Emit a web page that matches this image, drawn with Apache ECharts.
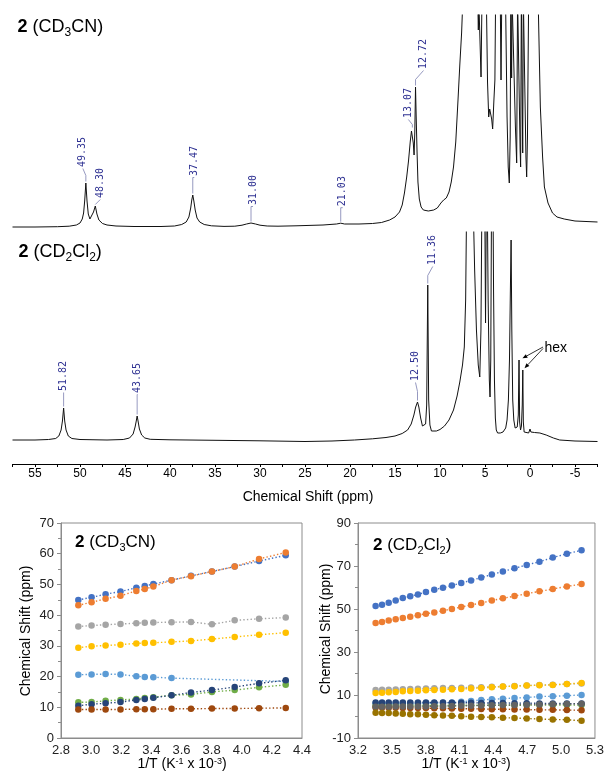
<!DOCTYPE html>
<html><head><meta charset="utf-8">
<script src="https://cdn.jsdelivr.net/npm/echarts@6/dist/echarts.min.js"></script>
<style>html,body{margin:0;padding:0;background:#fff}#c{width:607px;height:773px}</style>
</head><body><div id="c"></div>
<script>
// ---------- 13C NMR traces: [ppm, intensity] ----------
const specCD3CN = [
[57.5,0],[55,0],[52.5,0.3],[51.2,0.8],[50.4,2],[50.0,4],[49.75,8],[49.6,14],[49.48,26],[49.35,44],[49.22,26],[49.08,13],[48.9,8],[48.7,9],[48.5,15],[48.3,21],[48.12,13],[47.9,7],[47.5,3.5],[47,2],[46,1],[44,0.5],[41,0.5],[39.5,1],[38.7,2.5],[38.2,5],[37.9,10],[37.7,19],[37.58,27],[37.47,32],[37.35,26],[37.2,17],[37.0,9],[36.7,5],[36.2,2.5],[35.4,1.2],[34,0.6],[32.8,0.8],[32.0,1.8],[31.5,3],[31.0,4],[30.5,3],[30.0,1.8],[29.2,1],[28,0.8],[26,1.2],[23,2],[21.5,3],[21.03,3.8],[20.6,3],[19,3],[17.5,3.5],[16.5,4.5],[15.6,7],[15.0,10],[14.5,15],[14.2,22],[13.95,34],[13.7,50],[13.5,66],[13.3,86],[13.17,96],[13.07,98],[12.97,84],[12.88,72],[12.8,95],[12.72,140],[12.65,112],[12.55,75],[12.45,45],[12.3,28],[12.1,20],[11.85,17],[11.3,16],[10.7,17],[10.3,19],[9.9,24],[9.6,27],[9.3,29],[9.0,35],[8.75,45],[8.5,60],[8.25,85],[8.0,127],[7.8,162],[7.6,194],[7.45,230],[7.2,290],
[6.5,300],[5.9,260],[5.8,225],[5.74,197],[5.68,225],[5.55,225],[5.44,150],[5.34,225],[5.1,300],[4.85,230],[4.72,145],[4.59,110],[4.48,118],[4.37,120],[4.26,108],[4.15,98],[4.02,125],[3.9,147],[3.82,230],[3.5,300],[3.3,225],[3.22,147],[3.14,225],[2.9,300],[2.72,230],[2.55,110],[2.42,60],[2.3,44],[2.2,90],[2.13,230],[2.08,230],[2.04,149],[1.99,230],[1.8,230],[1.62,100],[1.48,64],[1.38,230],[1.2,230],[1.1,78],[1.04,60],[0.96,230],[0.88,230],[0.81,74],[0.74,230],[0.55,230],[0.45,70],[0.37,50],[0.28,90],[0.15,230],[-0.56,300],[-0.9,230],[-1.15,120],[-1.4,70],[-1.6,40],[-2.0,24],[-2.5,14],[-3.0,10],[-3.8,8],[-5.0,6],[-7.5,5]
];
const specCD2Cl2 = [
[57.5,0],[55,0],[53.5,0.5],[52.7,1.5],[52.35,4],[52.1,10],[51.95,19],[51.82,32],[51.7,19],[51.55,10],[51.3,4],[50.9,1.5],[50,0.5],[47,0],[45.2,0.5],[44.5,2],[44.1,6],[43.88,13],[43.75,19],[43.65,24],[43.55,19],[43.4,11],[43.15,5],[42.8,2],[42.2,0.7],[40,0.2],[35,-0.3],[30,-0.8],[25,-1.5],[22,-1],[19.5,0],[17.5,1.2],[16,2.5],[15,4],[14.2,6.5],[13.6,10],[13.2,16],[12.9,25],[12.7,33],[12.5,38],[12.35,33],[12.15,22],[11.95,14],[11.75,12],[11.6,16],[11.48,35],[11.36,155],[11.26,40],[11.12,15],[10.95,9],[10.75,8],[10.4,9],[10.0,10.5],[9.5,14],[9.0,20],[8.5,30],[8.1,44],[7.8,58],[7.5,75],[7.3,93],[7.15,140],[7.05,230],[6.8,300],
[6.35,250],[6.15,170],[5.95,110],[5.75,75],[5.58,63],[5.45,110],[5.35,230],[5.1,300],[5.0,200],[4.94,117],[4.88,200],[4.8,300],[4.65,140],[4.52,60],[4.44,43],[4.36,80],[4.28,230],[4.15,300],[4.05,150],[3.95,60],[3.85,22],[3.75,10],[3.6,7],[3.45,5],[3.3,7],[3.15,5],[3.0,8],[2.85,7],[2.7,12],[2.55,20],[2.4,40],[2.28,80],[2.18,150],[2.1,200],[2.02,110],[1.92,40],[1.8,20],[1.65,12],[1.56,10],[1.42,13],[1.3,25],[1.22,80],[1.15,18],[1.05,10],[0.95,14],[0.86,35],[0.8,70],[0.74,18],[0.65,8],[0.45,7],[0.15,7],[0.0,11],[-0.1,8],[-0.5,7.5],[-1.1,7],[-1.8,5],[-2.6,2],[-3.3,0],[-5,-1],[-7.5,-1.5]
];
// peak labels: [text, ppm, peak height]
const peaksCD3CN = [['49.35',49.35,44],['48.30',48.30,21],['37.47',37.47,32],['31.00',31.00,4],['21.03',21.03,3.8],['13.07',13.07,98],['12.72',12.72,140]];
const peaksCD2Cl2 = [['51.82',51.82,32],['43.65',43.65,24],['12.50',12.50,38],['11.36',11.36,155]];
const hexPeaks = [[1.22,80],[0.8,70]];
const ppmTicks = {min:-7.5, max:57.5, step:2.5};

// ---------- variable-temperature shifts ----------
const invT_CD3CN = [2.915,3.003,3.096,3.195,3.300,3.356,3.413,3.534,3.663,3.802,3.953,4.115,4.292];
const cd3cn1 = [44.95,45.8,46.8,47.7,48.9,49.5,50.1,51.4,52.8,54.2,55.8,57.6,59.5];
const cd3cn2 = [43.2,44.2,45.3,46.3,47.9,48.5,49.3,51.4,52.7,54.2,55.8,58.3,60.4];
const cd3cn3 = [36.3,36.6,36.9,37.1,37.4,37.5,37.6,37.7,37.8,37.0,38.3,38.8,39.2];
const cd3cn4 = [29.4,29.9,30.1,30.4,30.8,30.9,31.0,31.3,31.6,32.2,32.9,33.6,34.3];
const cd3cn5 = [20.6,20.7,20.8,20.7,20.1,19.9,19.8,19.5,null,null,null,null,18.4];
const cd3cn6 = [11.6,11.7,12.1,12.4,12.7,13.0,13.3,13.9,14.2,15.0,15.6,16.5,17.3];
const cd3cn7 = [10.5,11.0,11.3,11.7,12.4,12.7,13.1,13.9,14.8,15.6,16.6,17.8,18.8];
const cd3cn8 = [9.3,9.3,9.3,9.3,9.4,9.4,9.4,9.5,9.5,9.6,9.6,9.7,9.8];

const invT_CD2Cl2 = [3.356,3.413,3.472,3.534,3.597,3.663,3.731,3.802,3.876,3.953,4.032,4.115,4.202,4.292,4.386,4.484,4.587,4.695,4.808,4.926,5.051,5.181];
const cd2cl2_1 = [51.4,52.0,52.9,54.0,55.1,55.9,56.8,57.9,59.0,59.9,60.9,62.1,63.3,64.6,66.0,67.5,68.9,70.5,72.0,73.9,75.7,77.3];
const cd2cl2_2 = [43.5,44.0,44.6,45.2,45.8,46.4,47.1,47.8,48.4,49.2,50.0,50.9,51.9,52.8,53.9,55.0,56.0,57.1,58.2,59.3,60.5,61.6];
const cd2cl2_3 = [12.3,12.4,12.5,12.6,12.7,12.8,12.9,13.0,13.1,13.2,13.3,13.4,13.5,13.6,13.8,14.0,14.2,14.4,14.6,14.8,15.1,15.4];
const cd2cl2_4 = [10.9,11.1,11.3,11.4,11.7,11.9,12.0,12.2,12.3,12.5,12.7,12.8,13.0,13.3,13.6,13.9,14.1,14.4,14.5,14.7,15.1,15.6];
const cd2cl2_5 = [6.2,6.2,6.2,6.2,6.2,6.2,6.2,6.3,6.3,6.4,6.5,6.9,7.2,7.7,8.0,8.3,8.6,8.8,9.3,9.4,9.7,10.0];
const cd2cl2_6 = [5.0,5.0,5.0,5.0,5.1,5.1,5.1,5.1,5.1,5.1,5.1,5.2,5.2,5.2,5.2,5.2,5.2,5.3,5.3,5.3,5.3,5.3];
const cd2cl2_7 = [6.5,6.5,6.5,6.5,6.5,6.5,6.5,6.5,6.5,6.5,6.4,6.4,6.4,6.3,6.3,6.3,6.2,6.2,6.1,6.1,6.0,6.0];
const cd2cl2_8 = [4.2,4.2,4.1,4.1,4.0,4.0,3.9,3.9,3.8,3.8,3.7,3.6,3.6,3.5,3.4,3.4,3.3,3.2,3.1,3.1,3.0,2.9];
const cd2cl2_9 = [4.5,4.5,4.5,4.6,4.6,4.6,4.7,4.7,4.8,4.8,4.9,5.0,5.0,5.1,5.2,5.3,5.4,5.5,5.6,5.7,5.8,5.9];
const cd2cl2_10 = [1.8,1.6,1.6,1.4,1.3,1.1,1.0,0.8,0.6,0.5,0.3,0.1,-0.1,-0.2,-0.4,-0.6,-0.7,-0.9,-1.2,-1.4,-1.5,-2.0];

// ---------- styling ----------
const FONT = "'Liberation Sans', Arial, Helvetica, sans-serif";
const MONO = "'DejaVu Sans Mono', 'Liberation Mono', monospace";
const PAL = ['#4472C4','#ED7D31','#A5A5A5','#FFC000','#5B9BD5','#70AD47','#264478','#9E480E','#636363','#997300'];
const BOX = '#8c8c8c';

const chart = echarts.init(document.getElementById('c'), null, {renderer:'canvas'});

function specSeries(data, gi) {
  return {type:'line', xAxisIndex:gi, yAxisIndex:gi, data:data, symbol:'none', showSymbol:false,
    lineStyle:{color:'#111', width:1}, clip:true, animation:false, silent:true, z:2};
}
function vtSeries(xs, ys, color, gi) {
  const d = xs.map((x,i)=>[x, ys[i]]).filter(p=>p[1]!==null);
  return {type:'line', xAxisIndex:gi, yAxisIndex:gi, data:d, symbol:'circle', symbolSize:6.5, showSymbol:true,
    lineStyle:{color:color, width:1.4, type:[1.4,2.2]}, itemStyle:{color:color, borderWidth:0},
    animation:false, silent:true, z:3};
}
function vtAxes(gi, xmin, xmax, xint, ymin, ymax, yint) {
  return [{gridIndex:gi, type:'value', min:xmin, max:xmax, interval:xint,
      axisLine:{onZero:false, lineStyle:{color:BOX}}, axisTick:{show:false}, splitLine:{show:false},
      axisLabel:{fontSize:13, color:'#222', fontFamily:FONT, margin:6, formatter:v=>v.toFixed(1)}},
    {gridIndex:gi, type:'value', min:ymin, max:ymax, interval:yint,
      axisLine:{show:true, onZero:false, lineStyle:{color:BOX}},
      axisTick:{show:true, length:4, lineStyle:{color:BOX}},
      minorTick:{show:true, splitNumber:2, length:3, lineStyle:{color:BOX}},
      splitLine:{show:false}, minorSplitLine:{show:false},
      axisLabel:{fontSize:13, color:'#222', fontFamily:FONT, margin:7}}];
}
const ax2 = vtAxes(2, 2.8, 4.4, 0.2, 0, 70, 10);
const ax3 = vtAxes(3, 3.2, 5.3, 0.3, -10, 90, 20);

const series = [specSeries(specCD3CN,0), specSeries(specCD2Cl2,1)];
[cd3cn1,cd3cn2,cd3cn3,cd3cn4,cd3cn5,cd3cn6,cd3cn7,cd3cn8].forEach((ys,i)=>series.push(vtSeries(invT_CD3CN, ys, PAL[i], 2)));
[cd2cl2_1,cd2cl2_2,cd2cl2_3,cd2cl2_4,cd2cl2_5,cd2cl2_6,cd2cl2_7,cd2cl2_8,cd2cl2_9,cd2cl2_10].forEach((ys,i)=>series.push(vtSeries(invT_CD2Cl2, ys, PAL[i], 3)));

chart.setOption({
  backgroundColor:'#fff',
  animation:false,
  grid:[
    {left:12.5, width:585, top:15, height:214},
    {left:12.5, width:585, top:232, height:232},
    {left:61, width:241, top:523, height:215, show:true, borderColor:BOX, borderWidth:1, backgroundColor:'transparent'},
    {left:358, width:240, top:523, height:215, show:true, borderColor:BOX, borderWidth:1, backgroundColor:'transparent'}
  ],
  xAxis:[
    {gridIndex:0, type:'value', inverse:true, min:ppmTicks.min, max:ppmTicks.max, show:false},
    {gridIndex:1, type:'value', inverse:true, min:ppmTicks.min, max:ppmTicks.max, interval:ppmTicks.step,
      axisLine:{onZero:false, lineStyle:{color:'#000', width:1}},
      axisTick:{show:true, length:3, lineStyle:{color:'#000'}},
      splitLine:{show:false},
      axisLabel:{fontSize:12, color:'#000', fontFamily:FONT, margin:4,
        formatter:v=>(Math.abs(v/5-Math.round(v/5))<1e-6 ? String(Math.round(v)) : '')}},
    ax2[0], ax3[0]
  ],
  yAxis:[
    {gridIndex:0, type:'value', min:-2, max:212, show:false},
    {gridIndex:1, type:'value', min:-24, max:208, show:false},
    ax2[1], ax3[1]
  ],
  series:series
});

// ---------- annotations placed through the axes' scales ----------
const g = [];
const mctx = document.createElement('canvas').getContext('2d');
function fontStr(s,b){ return (b?'bold ':'')+s+'px '+FONT; }
function tw(t,s,b){ mctx.font = fontStr(s,b); return mctx.measureText(t).width; }
function richText(pieces, x, baseline, size, center) {
  const ps = pieces.map(p=>({t:p.t, s:p.s||size, b:!!p.b, dy:p.dy||0}));
  const total = ps.reduce((a,p)=>a+tw(p.t,p.s,p.b),0);
  let cx = center ? x-total/2 : x;
  ps.forEach(p=>{
    g.push({type:'text', x:cx, y:baseline+p.dy-0.32*p.s, silent:true,
      style:{text:p.t, font:fontStr(p.s,p.b), fill:'#000', align:'left', verticalAlign:'middle'}});
    cx += tw(p.t,p.s,p.b);
  });
}
const layCD3CN = [[-3,6,13],[5,0,5],[1.5,16,16],[2,15,15],[2,14,14],[-4,3,8],[8,6,15]];
const layCD2Cl2 = [[0,14,14],[0.5,20,20],[-2,9,18],[5,8,17]];
function peakLabels(peaks, lay, gi) {
  peaks.forEach((pk,i)=>{
    const p = chart.convertToPixel({gridIndex:gi}, [pk[1], pk[2]]);
    const [dx, v, gap] = lay[i];
    const x0 = p[0], y0 = p[1]-1.5;
    g.push({type:'polyline', silent:true, shape:{points:[[x0,y0],[x0,y0-v],[x0+dx,y0-gap]]},
      style:{stroke:'#7b7fb0', lineWidth:0.8, fill:'none'}});
    g.push({type:'text', x:x0+dx, y:y0-gap-1.5, rotation:Math.PI/2, silent:true,
      style:{text:pk[0], font:'10px '+MONO, fill:'#2e3192', align:'left', verticalAlign:'middle'}});
  });
}
peakLabels(peaksCD3CN, layCD3CN, 0);
peakLabels(peaksCD2Cl2, layCD2Cl2, 1);

// hex arrows
const h1 = chart.convertToPixel({gridIndex:1}, hexPeaks[0]);
const tx = h1[0]+25.5, ty = h1[1]-12;
g.push({type:'text', x:tx, y:ty, silent:true, style:{text:'hex', font:'14px '+FONT, fill:'#000', align:'left', verticalAlign:'middle'}});
const hexEnd = [[3.4,-1.7],[1.7,-1.7]];
hexPeaks.forEach((h,i)=>{
  const p = chart.convertToPixel({gridIndex:1}, h);
  const sx = tx-1.5, sy = ty-1+i*1.5;
  const ex = p[0]+hexEnd[i][0], ey = p[1]+hexEnd[i][1];
  const L = Math.hypot(ex-sx, ey-sy), ux=(ex-sx)/L, uy=(ey-sy)/L;
  const bx = ex-ux*5, by = ey-uy*5;
  g.push({type:'line', silent:true, shape:{x1:sx,y1:sy,x2:bx,y2:by}, style:{stroke:'#000', lineWidth:0.8}});
  g.push({type:'polygon', silent:true, shape:{points:[[ex,ey],[bx-uy*2,by+ux*2],[bx+uy*2,by-ux*2]]}, style:{fill:'#000'}});
});

// titles
richText([{t:'2',b:true},{t:' (CD'},{t:'3',s:12,dy:4},{t:'CN)'}], 17.5, 33, 18, false);
richText([{t:'2',b:true},{t:' (CD'},{t:'2',s:12,dy:4},{t:'Cl'},{t:'2',s:12,dy:4},{t:')'}], 18.5, 258, 18, false);
richText([{t:'2',b:true},{t:' (CD'},{t:'3',s:11,dy:4},{t:'CN)'}], 75, 547.5, 17, false);
richText([{t:'2',b:true},{t:' (CD'},{t:'2',s:11,dy:4},{t:'Cl'},{t:'2',s:11,dy:4},{t:')'}], 373, 550.5, 17, false);
// axis titles
g.push({type:'text', x:308, y:497, silent:true, style:{text:'Chemical Shift (ppm)', font:'14px '+FONT, fill:'#000', align:'center', verticalAlign:'middle'}});
g.push({type:'text', x:26, y:631, rotation:Math.PI/2, silent:true, style:{text:'Chemical Shift (ppm)', font:'14px '+FONT, fill:'#000', align:'center', verticalAlign:'middle'}});
g.push({type:'text', x:326, y:629, rotation:Math.PI/2, silent:true, style:{text:'Chemical Shift (ppm)', font:'14px '+FONT, fill:'#000', align:'center', verticalAlign:'middle'}});
const xt = [{t:'1/T (K'},{t:'-1',s:9,dy:-5},{t:' x 10'},{t:'-3',s:9,dy:-5},{t:')'}];
richText(xt, 182, 769, 14, true);
richText(xt, 466, 769, 14, true);

chart.setOption({graphic:g});
</script></body></html>
